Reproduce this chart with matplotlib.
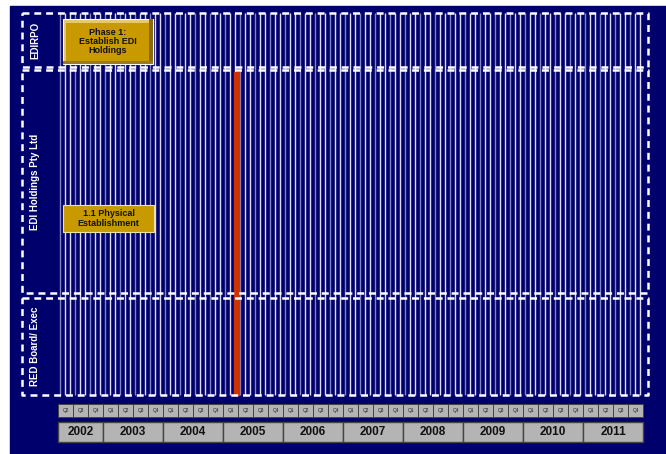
import matplotlib
matplotlib.use("Agg")
import matplotlib.pyplot as plt
from matplotlib.patches import Rectangle

plt.rcParams['font.family'] = ['Liberation Sans', 'DejaVu Sans']
plt.rcParams['lines.scale_dashes'] = False

# timeline data
years = [2002, 2003, 2004, 2005, 2006, 2007, 2008, 2009, 2010, 2011]
first_quarter = 2  # timeline starts at Q2 2002
quarter_labels = []
quarter_years = []
for yr in years:
    start = first_quarter if yr == years[0] else 1
    for q in range(start, 5):
        quarter_labels.append(f"Q{q}")
        quarter_years.append(yr)

# swim lanes (name, top, bottom) - vertical extents in layout units
lane_names = ["EDIRPO", "EDI Holdings Pty Ltd", "RED Board/ Exec"]
lane_tops = [13, 70, 298]
lane_bottoms = [67, 293, 395]

# activities: label, start quarter, end quarter
task_labels = ["Phase 1:\nEstablish EDI\nHoldings", "1.1 Physical\nEstablishment"]
task_start = [0.33, 0.33]
task_end = [6.33, 6.4]
task_top = [19, 205]
task_bottom = [64, 232]

# "today" marker, in quarters from Q2 2002
today_q = 11.9

NAVY = '#00006C'
GOLD = '#C99A00'

fig = plt.figure(figsize=(6.66, 4.54), dpi=100)
fig.patch.set_facecolor('white')
ax = fig.add_axes([0, 0, 1, 1])
px0 = 58.0  # pixel of quarter 0
qw = 15.0   # pixels per quarter
ax.set_xlim(-px0 / qw, (666 - px0) / qw)
ax.set_ylim(454, 0)
ax.axis('off')

xl = ax.get_xlim()
ax.add_patch(Rectangle((xl[0] + 10 / qw, 6), xl[1] - xl[0], 460, color=NAVY, zorder=0))

n_q = len(quarter_labels)

# vertical grid lines, three per quarter
for i in range(n_q * 3 + 1):
    x = 0.15 + i / 3.0
    if x > n_q:
        break
    a = 1.0 if i % 3 != 0 else 0.6
    ax.plot([x, x], [lane_tops[0], lane_bottoms[-1]], color='#DCDCFA', lw=1.0,
            alpha=a, zorder=1, solid_capstyle='butt')

# dashed lane borders
left = -(px0 - 22) / qw
right = (648 - px0) / qw
for name, top, bot in zip(lane_names, lane_tops, lane_bottoms):
    xs = [left, right, right, left, left]
    ys = [top, top, bot, bot, top]
    ax.plot(xs, ys, color='white', lw=1.8, linestyle=(0, (5, 3.5)), zorder=3)
    ax.text(-(px0 - 35) / qw, (top + bot) / 2, name, rotation=90, color='white',
            fontsize=7, fontweight='bold', ha='center', va='center', zorder=4)

# today marker
ax.add_patch(Rectangle((today_q - 0.17, 72), 0.34, lane_bottoms[-1] - 72,
                       color='#CC3300', zorder=2))

# activity boxes
for i, (lab, s, e, t, b) in enumerate(zip(task_labels, task_start, task_end, task_top, task_bottom)):
    if i == 0:
        ax.add_patch(Rectangle((s, t), e - s, b - t, facecolor='#E6C866',
                               edgecolor='white', lw=0.8, zorder=5))
        ins = 3.5
        ax.add_patch(Rectangle((s + ins / qw, t + ins), e - s - 2 * ins / qw, b - t - 2 * ins,
                               facecolor=GOLD, edgecolor='none', zorder=6))
        ax.add_patch(Rectangle((e - ins / qw, t), ins / qw, b - t,
                               facecolor='#8A6A10', edgecolor='none', zorder=5.5))
        ax.add_patch(Rectangle((s, b - ins), e - s, ins,
                               facecolor='#9A7A20', edgecolor='none', zorder=5.5))
    else:
        ax.add_patch(Rectangle((s, t), e - s, b - t, facecolor=GOLD,
                               edgecolor='#F0E0B0', lw=0.8, zorder=5))
    ax.text((s + e) / 2, (t + b) / 2, lab, fontsize=6.5, fontweight='bold', color='#111111',
            ha='center', va='center', linespacing=1.0, zorder=7)

# quarter boxes
for i, lab in enumerate(quarter_labels):
    ax.add_patch(Rectangle((i + 0.03, 404), 0.94, 13, facecolor='#B4B4B4',
                           edgecolor='#444444', lw=0.7, zorder=4))
    ax.text(i + 0.5, 410.5, lab, fontsize=3.5, color='#222222',
            ha='center', va='center', zorder=5)

# year boxes
pos = 0
for yr in years:
    n = quarter_years.count(yr)
    ax.add_patch(Rectangle((pos, 422), n, 20, facecolor='#B4B4B4',
                           edgecolor='#444444', lw=1.0, zorder=4))
    ax.text(pos + n / 2, 432, str(yr), fontsize=8.5, fontweight='bold', color='#111111',
            ha='center', va='center', zorder=5)
    pos += n

fig.savefig('out.png', dpi=100, facecolor=fig.get_facecolor())
